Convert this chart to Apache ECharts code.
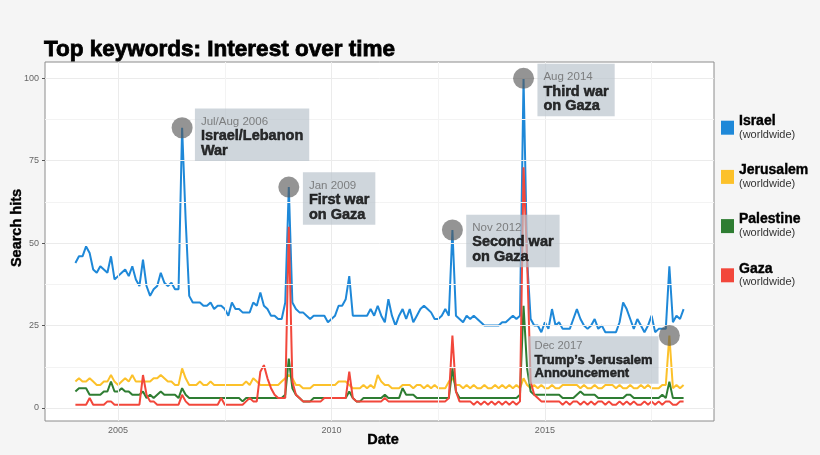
<!DOCTYPE html>
<html><head><meta charset="utf-8">
<script src="https://cdn.jsdelivr.net/npm/echarts@6/dist/echarts.min.js"></script>
<style>html,body{margin:0;padding:0;background:#f5f5f5}#c{width:820px;height:455px}</style>
</head><body><div id="c"></div>
<script>
// Monthly data, Jan 2004 .. Apr 2018
const startYear = 2004;
const seriesNames = ['Israel', 'Jerusalem', 'Palestine', 'Gaza'];
const israel = [44,46,46,49,47,42,41,43,42,41,
 46,39,40,41,42,40,43,39,37,45,
 37,34,36,37,41,38,37,38,36,36,
 85,57,34,32,32,32,31,31,32,30,
 31,31,30,28,32,30,30,29,29,29,
 32,31,35,31,30,28,28,27,27,32,
 67,32,30,29,29,28,27,28,28,28,
 28,26,27,28,31,31,33,40,28,28,
 28,28,28,30,28,31,28,26,33,28,
 25,28,30,27,30,26,28,30,31,30,
 29,27,27,28,30,28,54,28,27,26,
 28,27,28,27,26,25,25,25,25,25,
 26,26,27,28,27,28,100,45,27,25,
 25,23,26,24,30,25,26,24,24,24,
 27,30,27,25,24,25,27,24,25,23,
 23,23,23,26,32,30,27,24,27,25,
 23,25,28,23,24,24,24,43,26,28,
 27,30];
const jerusalem = [8,9,8,8,9,8,7,7,8,8,
 10,8,7,8,9,8,10,8,8,8,
 8,8,9,9,10,9,8,8,7,7,
 12,9,7,7,7,8,7,7,8,7,
 7,7,7,7,7,7,7,7,8,7,
 9,8,7,7,7,7,7,7,8,9,
 10,9,7,7,6,6,6,7,7,7,
 7,7,7,7,8,8,8,7,6,6,
 6,7,6,7,6,10,8,7,7,6,
 6,6,7,7,7,6,7,7,6,7,
 6,7,6,6,6,8,9,7,7,6,
 7,6,7,6,6,7,6,6,7,6,
 7,6,7,6,7,6,9,7,6,7,
 6,7,6,6,7,6,6,7,7,7,
 7,7,6,7,6,6,7,6,6,7,
 7,7,6,7,6,6,7,6,6,7,
 6,7,6,6,6,7,7,22,6,7,
 6,7];
const palestine = [5,6,6,6,4,4,4,4,5,5,
 8,5,5,6,5,5,4,4,4,5,
 3,4,3,4,5,4,4,4,4,3,
 6,4,3,3,3,3,3,3,3,3,
 3,3,3,3,3,3,3,2,3,3,
 3,3,3,3,3,3,3,3,3,4,
 15,6,4,3,2,2,2,3,3,3,
 3,3,3,3,3,3,3,5,3,2,
 2,3,3,3,3,3,3,4,3,3,
 3,3,6,4,4,4,3,3,3,3,
 3,3,3,3,3,3,12,5,3,3,
 3,3,3,3,3,3,3,3,3,3,
 3,3,3,3,3,4,31,12,5,4,
 4,4,4,4,4,4,4,3,3,3,
 3,4,5,4,4,4,4,3,3,3,
 3,3,3,3,3,4,4,3,3,3,
 3,3,3,3,3,4,3,8,3,3,
 3,3];
const gaza = [1,1,1,1,3,1,1,1,1,2,
 2,1,1,1,1,1,1,1,1,10,
 4,2,2,1,1,1,1,1,1,1,
 4,2,1,1,1,1,1,1,1,1,
 1,3,1,1,1,1,1,1,2,3,
 2,2,11,13,9,6,4,3,3,3,
 55,8,4,3,2,2,2,2,2,2,
 3,3,3,3,3,3,3,11,3,2,
 2,2,2,2,2,2,2,3,2,2,
 2,2,2,2,2,2,2,2,2,2,
 2,2,2,2,2,3,22,5,2,2,
 2,2,1,2,1,2,1,2,1,2,
 1,2,1,2,1,2,73,45,8,4,
 3,2,2,2,2,2,2,1,2,1,
 2,2,1,2,1,2,1,2,2,1,
 2,1,1,2,1,2,1,2,1,1,
 2,1,2,1,2,1,2,2,1,1,
 2,2];
const xTicks = [2005, 2010, 2015];
const xMinor = [2007.5, 2012.5, 2017.5];
const yTicks = [0, 25, 50, 75, 100];
const yMinor = [12.5, 37.5, 62.5, 87.5];
// annotations: month index and series they sit on
const annIndex = [30, 60, 106, 126, 167];
const annSeries = ['Israel', 'Israel', 'Israel', 'Israel', 'Jerusalem'];
const annDate = ['Jul/Aug 2006', 'Jan 2009', 'Nov 2012', 'Aug 2014', 'Dec 2017'];
const annText = [['Israel/Lebanon', 'War'], ['First war', 'on Gaza'], ['Second war', 'on Gaza'], ['Third war', 'on Gaza'], ['Trump\u2019s Jerusalem', 'Announcement']];

const FONT = '"Liberation Sans", Arial, Helvetica, sans-serif';
const colors = {Israel: '#1e88d8', Jerusalem: '#fcc12a', Palestine: '#2e7d32', Gaza: '#f2473b'};
const values = {Israel: israel, Jerusalem: jerusalem, Palestine: palestine, Gaza: gaza};
const toPairs = arr => arr.map((v, i) => [startYear + i / 12, v]);

// label placement per annotation (style only)
const annPlace = [
  {pos: 'right', dist: 2.3, off: [0, 7], small: false},
  {pos: 'right', dist: 3.6, off: [0, 11.5], small: false},
  {pos: 'right', dist: 3.3, off: [0, 11], small: false},
  {pos: 'right', dist: 3.4, off: [0, 11.7], small: false},
  {pos: 'left', dist: 0.3, off: [0, 24.6], small: true}
];

const annData = annIndex.map((idx, k) => {
  const p = annPlace[k];
  const dTag = p.small ? 'd2' : 'd';
  const bTag = p.small ? 'b2' : 'b';
  return {
    value: [startYear + idx / 12, values[annSeries[k]][idx]],
    label: {
      show: true, position: p.pos, distance: p.dist, offset: p.off,
      align: p.pos === 'left' ? 'right' : 'left',
      padding: p.small ? [3, 6, 3, 6] : [6, 6, 3, 6],
      formatter: `{${dTag}|${annDate[k]}}\n{${bTag}|${annText[k][0]}}\n{${bTag}|${annText[k][1]}}`
    }
  };
});

const lineSeries = seriesNames.map(n => ({
  name: n, type: 'line', data: toPairs(values[n]), showSymbol: false, symbol: 'none',
  lineStyle: {color: colors[n], width: 2}, itemStyle: {color: colors[n]},
  z: 2, silent: true, animation: false
}));

const gridLines = [
  ...xTicks.map(v => ({xAxis: v})),
  ...yTicks.map(v => ({yAxis: v})),
  ...xMinor.map(v => ({xAxis: v, lineStyle: {color: '#f3f3f3', width: 1, type: 'solid'}})),
  ...yMinor.map(v => ({yAxis: v, lineStyle: {color: '#f3f3f3', width: 1, type: 'solid'}}))
];

const chart = echarts.init(document.getElementById('c'), null, {renderer: 'canvas'});
chart.setOption({
  animation: false,
  backgroundColor: '#f5f5f5',
  textStyle: {fontFamily: FONT},
  title: {
    text: 'Top keywords: Interest over time', left: 44, top: 38, padding: 0,
    textStyle: {fontSize: 22.5, fontWeight: 'bold', color: '#000', fontFamily: FONT, textBorderColor: '#000', textBorderWidth: 0.8}
  },
  grid: {left: 45, right: 106, top: 62, bottom: 34, show: true, backgroundColor: '#ffffff', borderColor: '#8c8c8c', borderWidth: 1},
  legend: {
    data: seriesNames, orient: 'vertical', left: 721, top: 114, padding: 0, icon: 'rect',
    itemWidth: 13, itemHeight: 14, itemGap: 23, selectedMode: false,
    formatter: n => `{n|${n}}\n{w|(worldwide)}`,
    textStyle: {
      fontFamily: FONT,
      rich: {
        n: {fontSize: 14, fontWeight: 'bold', color: '#000', lineHeight: 14, fontFamily: FONT, textBorderColor: '#000', textBorderWidth: 0.4},
        w: {fontSize: 11, color: '#333', lineHeight: 13, fontFamily: FONT}
      }
    }
  },
  xAxis: {
    type: 'value', min: 2003.2875, max: 2018.9625,
    axisLine: {show: false}, splitLine: {show: false},
    axisTick: {show: true, length: 3, customValues: xTicks, lineStyle: {color: '#555'}},
    axisLabel: {customValues: xTicks, formatter: v => String(v), fontSize: 9, color: '#666', margin: 5, fontFamily: FONT}
  },
  yAxis: {
    type: 'value', min: -3.95, max: 104.95,
    axisLine: {show: false}, splitLine: {show: false},
    axisTick: {show: true, length: 3, customValues: yTicks, lineStyle: {color: '#555'}},
    axisLabel: {customValues: yTicks, formatter: v => String(v), fontSize: 9, color: '#666', margin: 6, fontFamily: FONT}
  },
  graphic: [
    {type: 'text', x: 17, y: 228, rotation: Math.PI / 2, style: {text: 'Search hits', fill: '#000', align: 'center', verticalAlign: 'middle', font: 'bold 14.5px ' + FONT, stroke: '#000', lineWidth: 0.4}},
    {type: 'text', x: 383, y: 440, style: {text: 'Date', fill: '#000', align: 'center', verticalAlign: 'middle', font: 'bold 14.5px ' + FONT, stroke: '#000', lineWidth: 0.4}}
  ],
  series: [
    {name: '_grid', type: 'line', data: [], z: 1, silent: true,
     markLine: {silent: true, symbol: ['none', 'none'], label: {show: false}, animation: false,
       lineStyle: {color: '#ebebeb', width: 1, type: 'solid'}, data: gridLines}},
    ...lineSeries,
    {name: '_ann', type: 'scatter', data: annData, symbolSize: 21, z: 5, silent: true,
     itemStyle: {color: 'rgba(88,88,88,0.8)'},
     label: {
       backgroundColor: 'rgba(184,195,203,0.85)',
       rich: {
         d: {fontSize: 11.5, color: '#666', lineHeight: 14.5, fontFamily: FONT, align: 'left'},
         b: {fontSize: 14.5, fontWeight: 'bold', color: '#000', lineHeight: 14.5, fontFamily: FONT, textBorderColor: '#000', textBorderWidth: 0.5, align: 'left'},
         d2: {fontSize: 11.2, color: '#666', lineHeight: 13.8, fontFamily: FONT, align: 'left'},
         b2: {fontSize: 13, fontWeight: 'bold', color: '#000', lineHeight: 13.8, fontFamily: FONT, textBorderColor: '#000', textBorderWidth: 0.5, align: 'left'}
       }
     }}
  ]
});
</script></body></html>
